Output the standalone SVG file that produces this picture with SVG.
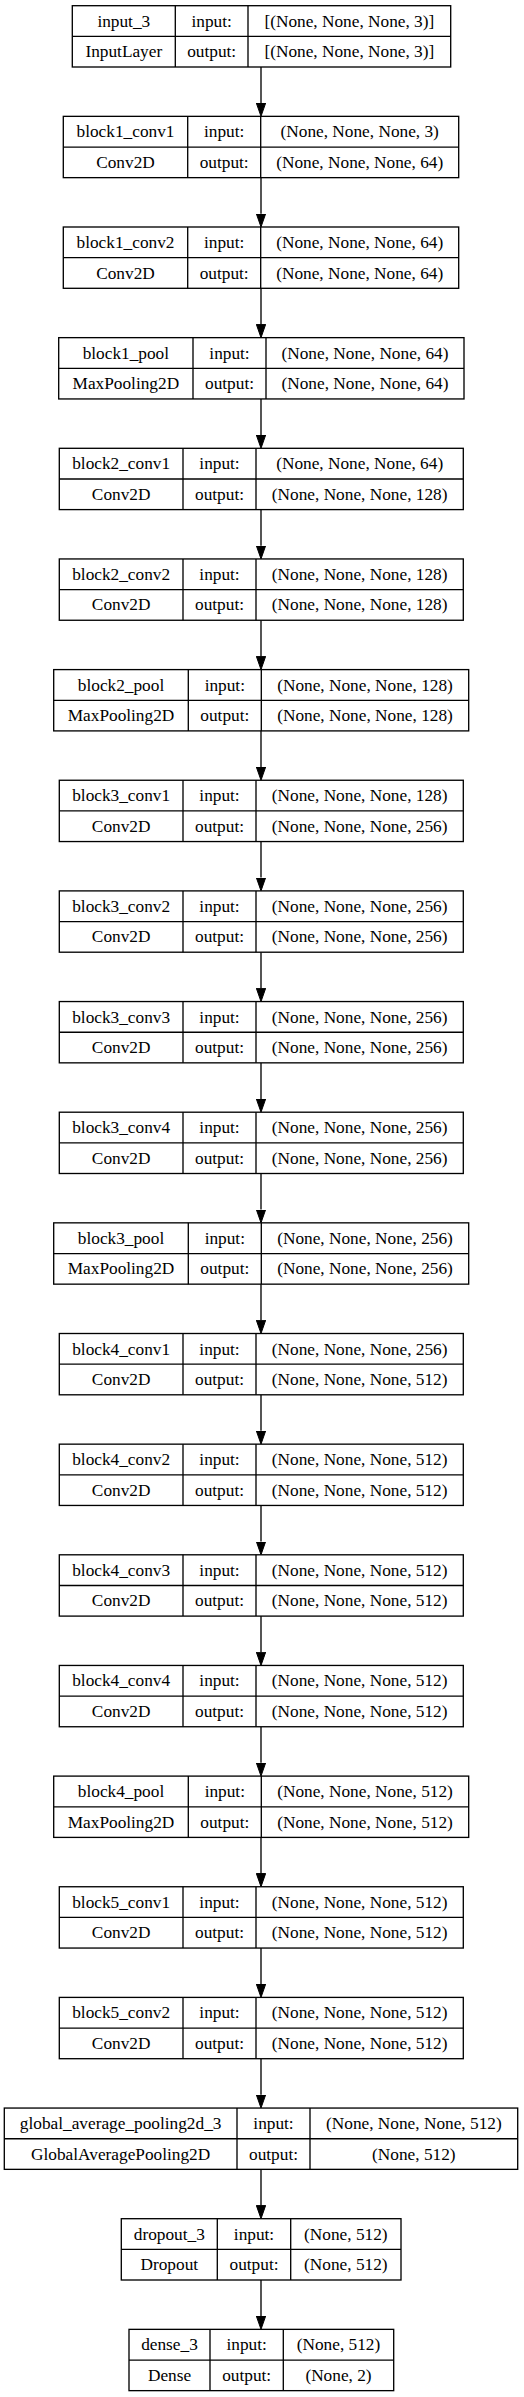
<svg xmlns="http://www.w3.org/2000/svg" width="524" height="2397" viewBox="0 0 524 2397">
<style>
.box{fill:#fff;stroke:#000;stroke-width:1.33}
.div{stroke:#000;stroke-width:1.33}
text{font-family:"Liberation Serif","Times New Roman",serif;font-size:17.3px;fill:#000;text-anchor:middle}
.edge{stroke:#000;stroke-width:1.33;fill:none}
</style>
<defs>
<marker id="ah" markerUnits="userSpaceOnUse" markerWidth="14" markerHeight="10" refX="0" refY="4.67" orient="auto">
<path d="M0,0 L13.3,4.67 L0,9.33 Z" fill="#000" stroke="#000" stroke-width="1"/>
</marker>
</defs>
<rect x="0" y="0" width="524" height="2397" fill="#fff"/>

<g id="connectors">
<line class="edge" x1="261" y1="67.0" x2="261" y2="103.05" marker-end="url(#ah)"/>
<line class="edge" x1="261" y1="177.65" x2="261" y2="213.7" marker-end="url(#ah)"/>
<line class="edge" x1="261" y1="288.3" x2="261" y2="324.35" marker-end="url(#ah)"/>
<line class="edge" x1="261" y1="398.95" x2="261" y2="435.0" marker-end="url(#ah)"/>
<line class="edge" x1="261" y1="509.6" x2="261" y2="545.65" marker-end="url(#ah)"/>
<line class="edge" x1="261" y1="620.25" x2="261" y2="656.3" marker-end="url(#ah)"/>
<line class="edge" x1="261" y1="730.9" x2="261" y2="766.95" marker-end="url(#ah)"/>
<line class="edge" x1="261" y1="841.55" x2="261" y2="877.6" marker-end="url(#ah)"/>
<line class="edge" x1="261" y1="952.2" x2="261" y2="988.25" marker-end="url(#ah)"/>
<line class="edge" x1="261" y1="1062.85" x2="261" y2="1098.9" marker-end="url(#ah)"/>
<line class="edge" x1="261" y1="1173.5" x2="261" y2="1209.55" marker-end="url(#ah)"/>
<line class="edge" x1="261" y1="1284.15" x2="261" y2="1320.2" marker-end="url(#ah)"/>
<line class="edge" x1="261" y1="1394.8" x2="261" y2="1430.85" marker-end="url(#ah)"/>
<line class="edge" x1="261" y1="1505.45" x2="261" y2="1541.5" marker-end="url(#ah)"/>
<line class="edge" x1="261" y1="1616.1" x2="261" y2="1652.15" marker-end="url(#ah)"/>
<line class="edge" x1="261" y1="1726.75" x2="261" y2="1762.8" marker-end="url(#ah)"/>
<line class="edge" x1="261" y1="1837.4" x2="261" y2="1873.45" marker-end="url(#ah)"/>
<line class="edge" x1="261" y1="1948.05" x2="261" y2="1984.1" marker-end="url(#ah)"/>
<line class="edge" x1="261" y1="2058.7" x2="261" y2="2094.75" marker-end="url(#ah)"/>
<line class="edge" x1="261" y1="2169.35" x2="261" y2="2205.4" marker-end="url(#ah)"/>
<line class="edge" x1="261" y1="2280.0" x2="261" y2="2316.05" marker-end="url(#ah)"/>
</g>

<g id="input_3" transform="translate(0,5.7)">
<rect class="box" x="72.3" y="0" width="378.4" height="61.3"/>
<line class="div" x1="72.3" y1="30.7" x2="450.7" y2="30.7"/>
<line class="div" x1="175.3" y1="0" x2="175.3" y2="61.3"/>
<line class="div" x1="248" y1="0" x2="248" y2="61.3"/>
<text x="123.8" y="21">input_3</text><text x="211.65" y="21">input:</text><text x="349.35" y="21">[(None, None, None, 3)]</text>
<text x="123.8" y="51.5">InputLayer</text><text x="211.65" y="51.5">output:</text><text x="349.35" y="51.5">[(None, None, None, 3)]</text>
</g>

<g id="block1_conv1" transform="translate(0,116.35)">
<rect class="box" x="63.3" y="0" width="395.4" height="61.3"/>
<line class="div" x1="63.3" y1="30.7" x2="458.7" y2="30.7"/>
<line class="div" x1="187.7" y1="0" x2="187.7" y2="61.3"/>
<line class="div" x1="260.7" y1="0" x2="260.7" y2="61.3"/>
<text x="125.5" y="21">block1_conv1</text><text x="224.2" y="21">input:</text><text x="359.7" y="21">(None, None, None, 3)</text>
<text x="125.5" y="51.5">Conv2D</text><text x="224.2" y="51.5">output:</text><text x="359.7" y="51.5">(None, None, None, 64)</text>
</g>

<g id="block1_conv2" transform="translate(0,227)">
<rect class="box" x="63.3" y="0" width="395.4" height="61.3"/>
<line class="div" x1="63.3" y1="30.7" x2="458.7" y2="30.7"/>
<line class="div" x1="187.7" y1="0" x2="187.7" y2="61.3"/>
<line class="div" x1="260.7" y1="0" x2="260.7" y2="61.3"/>
<text x="125.5" y="21">block1_conv2</text><text x="224.2" y="21">input:</text><text x="359.7" y="21">(None, None, None, 64)</text>
<text x="125.5" y="51.5">Conv2D</text><text x="224.2" y="51.5">output:</text><text x="359.7" y="51.5">(None, None, None, 64)</text>
</g>

<g id="block1_pool" transform="translate(0,337.65)">
<rect class="box" x="58.7" y="0" width="405.3" height="61.3"/>
<line class="div" x1="58.7" y1="30.7" x2="464" y2="30.7"/>
<line class="div" x1="193" y1="0" x2="193" y2="61.3"/>
<line class="div" x1="266" y1="0" x2="266" y2="61.3"/>
<text x="125.85" y="21">block1_pool</text><text x="229.5" y="21">input:</text><text x="365" y="21">(None, None, None, 64)</text>
<text x="125.85" y="51.5">MaxPooling2D</text><text x="229.5" y="51.5">output:</text><text x="365" y="51.5">(None, None, None, 64)</text>
</g>

<g id="block2_conv1" transform="translate(0,448.3)">
<rect class="box" x="59.3" y="0" width="404" height="61.3"/>
<line class="div" x1="59.3" y1="30.7" x2="463.3" y2="30.7"/>
<line class="div" x1="183" y1="0" x2="183" y2="61.3"/>
<line class="div" x1="256" y1="0" x2="256" y2="61.3"/>
<text x="121.15" y="21">block2_conv1</text><text x="219.5" y="21">input:</text><text x="359.65" y="21">(None, None, None, 64)</text>
<text x="121.15" y="51.5">Conv2D</text><text x="219.5" y="51.5">output:</text><text x="359.65" y="51.5">(None, None, None, 128)</text>
</g>

<g id="block2_conv2" transform="translate(0,558.95)">
<rect class="box" x="59.3" y="0" width="404" height="61.3"/>
<line class="div" x1="59.3" y1="30.7" x2="463.3" y2="30.7"/>
<line class="div" x1="183" y1="0" x2="183" y2="61.3"/>
<line class="div" x1="256" y1="0" x2="256" y2="61.3"/>
<text x="121.15" y="21">block2_conv2</text><text x="219.5" y="21">input:</text><text x="359.65" y="21">(None, None, None, 128)</text>
<text x="121.15" y="51.5">Conv2D</text><text x="219.5" y="51.5">output:</text><text x="359.65" y="51.5">(None, None, None, 128)</text>
</g>

<g id="block2_pool" transform="translate(0,669.6)">
<rect class="box" x="53.7" y="0" width="415" height="61.3"/>
<line class="div" x1="53.7" y1="30.7" x2="468.7" y2="30.7"/>
<line class="div" x1="188.3" y1="0" x2="188.3" y2="61.3"/>
<line class="div" x1="261.3" y1="0" x2="261.3" y2="61.3"/>
<text x="121" y="21">block2_pool</text><text x="224.8" y="21">input:</text><text x="365" y="21">(None, None, None, 128)</text>
<text x="121" y="51.5">MaxPooling2D</text><text x="224.8" y="51.5">output:</text><text x="365" y="51.5">(None, None, None, 128)</text>
</g>

<g id="block3_conv1" transform="translate(0,780.25)">
<rect class="box" x="59.3" y="0" width="404" height="61.3"/>
<line class="div" x1="59.3" y1="30.7" x2="463.3" y2="30.7"/>
<line class="div" x1="183" y1="0" x2="183" y2="61.3"/>
<line class="div" x1="256" y1="0" x2="256" y2="61.3"/>
<text x="121.15" y="21">block3_conv1</text><text x="219.5" y="21">input:</text><text x="359.65" y="21">(None, None, None, 128)</text>
<text x="121.15" y="51.5">Conv2D</text><text x="219.5" y="51.5">output:</text><text x="359.65" y="51.5">(None, None, None, 256)</text>
</g>

<g id="block3_conv2" transform="translate(0,890.9)">
<rect class="box" x="59.3" y="0" width="404" height="61.3"/>
<line class="div" x1="59.3" y1="30.7" x2="463.3" y2="30.7"/>
<line class="div" x1="183" y1="0" x2="183" y2="61.3"/>
<line class="div" x1="256" y1="0" x2="256" y2="61.3"/>
<text x="121.15" y="21">block3_conv2</text><text x="219.5" y="21">input:</text><text x="359.65" y="21">(None, None, None, 256)</text>
<text x="121.15" y="51.5">Conv2D</text><text x="219.5" y="51.5">output:</text><text x="359.65" y="51.5">(None, None, None, 256)</text>
</g>

<g id="block3_conv3" transform="translate(0,1001.55)">
<rect class="box" x="59.3" y="0" width="404" height="61.3"/>
<line class="div" x1="59.3" y1="30.7" x2="463.3" y2="30.7"/>
<line class="div" x1="183" y1="0" x2="183" y2="61.3"/>
<line class="div" x1="256" y1="0" x2="256" y2="61.3"/>
<text x="121.15" y="21">block3_conv3</text><text x="219.5" y="21">input:</text><text x="359.65" y="21">(None, None, None, 256)</text>
<text x="121.15" y="51.5">Conv2D</text><text x="219.5" y="51.5">output:</text><text x="359.65" y="51.5">(None, None, None, 256)</text>
</g>

<g id="block3_conv4" transform="translate(0,1112.2)">
<rect class="box" x="59.3" y="0" width="404" height="61.3"/>
<line class="div" x1="59.3" y1="30.7" x2="463.3" y2="30.7"/>
<line class="div" x1="183" y1="0" x2="183" y2="61.3"/>
<line class="div" x1="256" y1="0" x2="256" y2="61.3"/>
<text x="121.15" y="21">block3_conv4</text><text x="219.5" y="21">input:</text><text x="359.65" y="21">(None, None, None, 256)</text>
<text x="121.15" y="51.5">Conv2D</text><text x="219.5" y="51.5">output:</text><text x="359.65" y="51.5">(None, None, None, 256)</text>
</g>

<g id="block3_pool" transform="translate(0,1222.85)">
<rect class="box" x="53.7" y="0" width="415" height="61.3"/>
<line class="div" x1="53.7" y1="30.7" x2="468.7" y2="30.7"/>
<line class="div" x1="188.3" y1="0" x2="188.3" y2="61.3"/>
<line class="div" x1="261.3" y1="0" x2="261.3" y2="61.3"/>
<text x="121" y="21">block3_pool</text><text x="224.8" y="21">input:</text><text x="365" y="21">(None, None, None, 256)</text>
<text x="121" y="51.5">MaxPooling2D</text><text x="224.8" y="51.5">output:</text><text x="365" y="51.5">(None, None, None, 256)</text>
</g>

<g id="block4_conv1" transform="translate(0,1333.5)">
<rect class="box" x="59.3" y="0" width="404" height="61.3"/>
<line class="div" x1="59.3" y1="30.7" x2="463.3" y2="30.7"/>
<line class="div" x1="183" y1="0" x2="183" y2="61.3"/>
<line class="div" x1="256" y1="0" x2="256" y2="61.3"/>
<text x="121.15" y="21">block4_conv1</text><text x="219.5" y="21">input:</text><text x="359.65" y="21">(None, None, None, 256)</text>
<text x="121.15" y="51.5">Conv2D</text><text x="219.5" y="51.5">output:</text><text x="359.65" y="51.5">(None, None, None, 512)</text>
</g>

<g id="block4_conv2" transform="translate(0,1444.15)">
<rect class="box" x="59.3" y="0" width="404" height="61.3"/>
<line class="div" x1="59.3" y1="30.7" x2="463.3" y2="30.7"/>
<line class="div" x1="183" y1="0" x2="183" y2="61.3"/>
<line class="div" x1="256" y1="0" x2="256" y2="61.3"/>
<text x="121.15" y="21">block4_conv2</text><text x="219.5" y="21">input:</text><text x="359.65" y="21">(None, None, None, 512)</text>
<text x="121.15" y="51.5">Conv2D</text><text x="219.5" y="51.5">output:</text><text x="359.65" y="51.5">(None, None, None, 512)</text>
</g>

<g id="block4_conv3" transform="translate(0,1554.8)">
<rect class="box" x="59.3" y="0" width="404" height="61.3"/>
<line class="div" x1="59.3" y1="30.7" x2="463.3" y2="30.7"/>
<line class="div" x1="183" y1="0" x2="183" y2="61.3"/>
<line class="div" x1="256" y1="0" x2="256" y2="61.3"/>
<text x="121.15" y="21">block4_conv3</text><text x="219.5" y="21">input:</text><text x="359.65" y="21">(None, None, None, 512)</text>
<text x="121.15" y="51.5">Conv2D</text><text x="219.5" y="51.5">output:</text><text x="359.65" y="51.5">(None, None, None, 512)</text>
</g>

<g id="block4_conv4" transform="translate(0,1665.45)">
<rect class="box" x="59.3" y="0" width="404" height="61.3"/>
<line class="div" x1="59.3" y1="30.7" x2="463.3" y2="30.7"/>
<line class="div" x1="183" y1="0" x2="183" y2="61.3"/>
<line class="div" x1="256" y1="0" x2="256" y2="61.3"/>
<text x="121.15" y="21">block4_conv4</text><text x="219.5" y="21">input:</text><text x="359.65" y="21">(None, None, None, 512)</text>
<text x="121.15" y="51.5">Conv2D</text><text x="219.5" y="51.5">output:</text><text x="359.65" y="51.5">(None, None, None, 512)</text>
</g>

<g id="block4_pool" transform="translate(0,1776.1)">
<rect class="box" x="53.7" y="0" width="415" height="61.3"/>
<line class="div" x1="53.7" y1="30.7" x2="468.7" y2="30.7"/>
<line class="div" x1="188.3" y1="0" x2="188.3" y2="61.3"/>
<line class="div" x1="261.3" y1="0" x2="261.3" y2="61.3"/>
<text x="121" y="21">block4_pool</text><text x="224.8" y="21">input:</text><text x="365" y="21">(None, None, None, 512)</text>
<text x="121" y="51.5">MaxPooling2D</text><text x="224.8" y="51.5">output:</text><text x="365" y="51.5">(None, None, None, 512)</text>
</g>

<g id="block5_conv1" transform="translate(0,1886.75)">
<rect class="box" x="59.3" y="0" width="404" height="61.3"/>
<line class="div" x1="59.3" y1="30.7" x2="463.3" y2="30.7"/>
<line class="div" x1="183" y1="0" x2="183" y2="61.3"/>
<line class="div" x1="256" y1="0" x2="256" y2="61.3"/>
<text x="121.15" y="21">block5_conv1</text><text x="219.5" y="21">input:</text><text x="359.65" y="21">(None, None, None, 512)</text>
<text x="121.15" y="51.5">Conv2D</text><text x="219.5" y="51.5">output:</text><text x="359.65" y="51.5">(None, None, None, 512)</text>
</g>

<g id="block5_conv2" transform="translate(0,1997.4)">
<rect class="box" x="59.3" y="0" width="404" height="61.3"/>
<line class="div" x1="59.3" y1="30.7" x2="463.3" y2="30.7"/>
<line class="div" x1="183" y1="0" x2="183" y2="61.3"/>
<line class="div" x1="256" y1="0" x2="256" y2="61.3"/>
<text x="121.15" y="21">block5_conv2</text><text x="219.5" y="21">input:</text><text x="359.65" y="21">(None, None, None, 512)</text>
<text x="121.15" y="51.5">Conv2D</text><text x="219.5" y="51.5">output:</text><text x="359.65" y="51.5">(None, None, None, 512)</text>
</g>

<g id="global_average_pooling2d_3" transform="translate(0,2108.05)">
<rect class="box" x="4.3" y="0" width="513.4" height="61.3"/>
<line class="div" x1="4.3" y1="30.7" x2="517.7" y2="30.7"/>
<line class="div" x1="237" y1="0" x2="237" y2="61.3"/>
<line class="div" x1="310" y1="0" x2="310" y2="61.3"/>
<text x="120.65" y="21">global_average_pooling2d_3</text><text x="273.5" y="21">input:</text><text x="413.85" y="21">(None, None, None, 512)</text>
<text x="120.65" y="51.5">GlobalAveragePooling2D</text><text x="273.5" y="51.5">output:</text><text x="413.85" y="51.5">(None, 512)</text>
</g>

<g id="dropout_3" transform="translate(0,2218.7)">
<rect class="box" x="121.3" y="0" width="279.7" height="61.3"/>
<line class="div" x1="121.3" y1="30.7" x2="401" y2="30.7"/>
<line class="div" x1="217.3" y1="0" x2="217.3" y2="61.3"/>
<line class="div" x1="290.7" y1="0" x2="290.7" y2="61.3"/>
<text x="169.3" y="21">dropout_3</text><text x="254" y="21">input:</text><text x="345.85" y="21">(None, 512)</text>
<text x="169.3" y="51.5">Dropout</text><text x="254" y="51.5">output:</text><text x="345.85" y="51.5">(None, 512)</text>
</g>

<g id="dense_3" transform="translate(0,2329.35)">
<rect class="box" x="129" y="0" width="264.7" height="61.3"/>
<line class="div" x1="129" y1="30.7" x2="393.7" y2="30.7"/>
<line class="div" x1="210" y1="0" x2="210" y2="61.3"/>
<line class="div" x1="283.3" y1="0" x2="283.3" y2="61.3"/>
<text x="169.5" y="21">dense_3</text><text x="246.65" y="21">input:</text><text x="338.5" y="21">(None, 512)</text>
<text x="169.5" y="51.5">Dense</text><text x="246.65" y="51.5">output:</text><text x="338.5" y="51.5">(None, 2)</text>
</g>
</svg>
